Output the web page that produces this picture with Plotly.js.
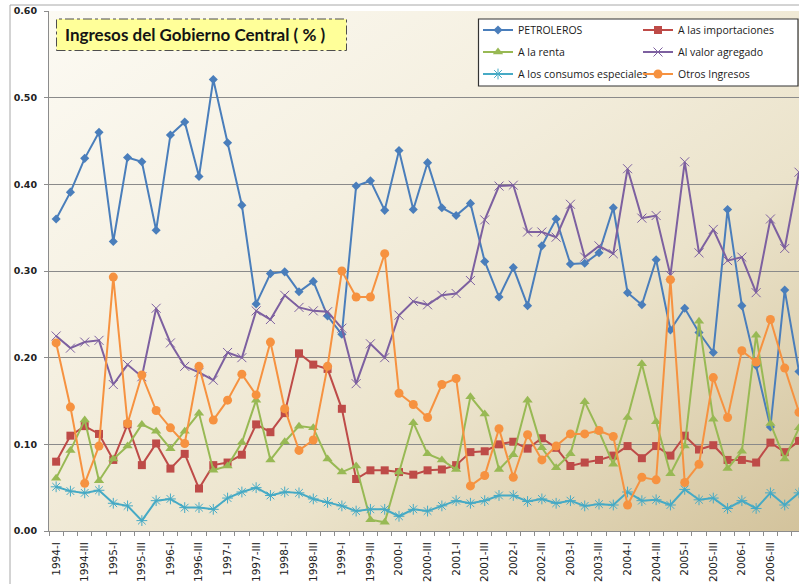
<!DOCTYPE html>
<html>
<head>
<meta charset="utf-8">
<script src="https://cdn.plot.ly/plotly-3.0.1.min.js"></script>
<style>
  html, body { margin: 0; padding: 0; background: #ffffff; overflow: hidden; }
  #wrap { position: relative; width: 799px; height: 584px; }
  #bg { position: absolute; left: 49px; top: 11px; width: 750px; height: 520px;
        background: linear-gradient(to bottom right, #fcfaf3 0%, #f5f0e1 35%, #ebe3cb 65%, #d3c39c 100%); }
  #chart { position: absolute; left: 0; top: 0; width: 799px; height: 584px; }
</style>
</head>
<body>
<div id="wrap"><div id="bg"></div><div id="chart"></div></div>
<script>
const categories = [
  '1994-I','1994-II','1994-III','1994-IV','1995-I','1995-II','1995-III','1995-IV',
  '1996-I','1996-II','1996-III','1996-IV','1997-I','1997-II','1997-III','1997-IV',
  '1998-I','1998-II','1998-III','1998-IV','1999-I','1999-II','1999-III','1999-IV',
  '2000-I','2000-II','2000-III','2000-IV','2001-I','2001-II','2001-III','2001-IV',
  '2002-I','2002-II','2002-III','2002-IV','2003-I','2003-II','2003-III','2003-IV',
  '2004-I','2004-II','2004-III','2004-IV','2005-I','2005-II','2005-III','2005-IV',
  '2006-I','2006-II','2006-III','2006-IV','2007-I'
];
const petroleros = [0.360,0.391,0.430,0.460,0.334,0.431,0.426,0.347,0.457,0.472,0.409,0.521,0.448,0.376,0.262,0.297,0.299,0.276,0.288,0.248,0.227,0.398,0.404,0.370,0.439,0.371,0.425,0.373,0.364,0.378,0.311,0.270,0.304,0.260,0.329,0.360,0.308,0.309,0.321,0.373,0.275,0.261,0.313,0.232,0.257,0.229,0.206,0.371,0.260,0.191,0.120,0.278,0.184];
const importaciones = [0.080,0.110,0.121,0.112,0.082,0.123,0.076,0.101,0.072,0.089,0.049,0.076,0.079,0.088,0.123,0.114,0.136,0.205,0.192,0.187,0.141,0.060,0.070,0.070,0.068,0.065,0.070,0.071,0.076,0.091,0.092,0.100,0.103,0.095,0.107,0.096,0.075,0.079,0.082,0.087,0.098,0.084,0.098,0.087,0.110,0.094,0.099,0.082,0.082,0.079,0.102,0.091,0.104];
const renta = [0.061,0.093,0.128,0.058,0.083,0.098,0.123,0.115,0.095,0.115,0.136,0.070,0.075,0.102,0.151,0.082,0.103,0.121,0.119,0.083,0.068,0.075,0.013,0.010,0.068,0.125,0.089,0.082,0.071,0.155,0.135,0.071,0.088,0.151,0.096,0.073,0.089,0.149,0.115,0.077,0.131,0.193,0.126,0.066,0.098,0.242,0.129,0.072,0.092,0.226,0.124,0.083,0.119];
const valorAgregado = [0.225,0.211,0.218,0.220,0.169,0.192,0.178,0.257,0.217,0.190,0.183,0.174,0.206,0.200,0.254,0.244,0.272,0.258,0.254,0.253,0.234,0.170,0.216,0.200,0.249,0.265,0.261,0.272,0.274,0.289,0.359,0.398,0.399,0.345,0.345,0.339,0.377,0.316,0.329,0.320,0.418,0.361,0.364,0.295,0.426,0.321,0.348,0.312,0.316,0.275,0.360,0.326,0.414];
const consumos = [0.051,0.046,0.044,0.047,0.032,0.029,0.012,0.035,0.037,0.027,0.027,0.025,0.038,0.045,0.050,0.041,0.045,0.044,0.037,0.033,0.029,0.023,0.025,0.025,0.017,0.025,0.023,0.029,0.035,0.032,0.035,0.041,0.041,0.034,0.037,0.032,0.035,0.029,0.031,0.030,0.045,0.035,0.036,0.030,0.048,0.036,0.038,0.026,0.035,0.026,0.044,0.030,0.044];
const otros = [0.217,0.143,0.055,0.098,0.293,0.124,0.180,0.139,0.119,0.101,0.190,0.128,0.151,0.181,0.157,0.218,0.141,0.093,0.105,0.190,0.300,0.270,0.270,0.320,0.159,0.146,0.131,0.169,0.176,0.052,0.064,0.118,0.062,0.111,0.082,0.098,0.112,0.112,0.116,0.109,0.030,0.062,0.059,0.290,0.056,0.077,0.177,0.131,0.208,0.195,0.244,0.188,0.137];

const seriesNames = ['PETROLEROS','A las importaciones','A la renta','Al valor agregado','A los consumos especiales','Otros Ingresos'];

const xIdx = categories.map((c, i) => i);
const tickVals = xIdx.filter(i => i % 2 === 0);
const tickText = tickVals.map(i => categories[i]);

function mk(name, y, color, symbol, size, legendId, open) {
  return {
    type: 'scatter', mode: 'lines+markers', name: name,
    x: xIdx, y: y, legend: legendId,
    line: { color: color, width: 2 },
    marker: open
      ? { symbol: symbol, size: size, color: color, line: { color: color, width: 1 } }
      : { symbol: symbol, size: size, color: color, line: { width: 0 } },
    hoverinfo: 'name+y'
  };
}

const data = [
  mk(seriesNames[0], petroleros, '#4a7ebb', 'diamond', 7, 'legend', false),
  mk(seriesNames[1], importaciones, '#be4b48', 'square', 8, 'legend', false),
  mk(seriesNames[2], renta, '#98b954', 'triangle-up', 9, 'legend2', false),
  mk(seriesNames[3], valorAgregado, '#7d60a0', 'x-thin-open', 9, 'legend2', true),
  mk(seriesNames[4], consumos, '#46aac5', 'asterisk-open', 9, 'legend3', true),
  mk(seriesNames[5], otros, '#f69240', 'circle', 9, 'legend3', false)
];

const legFont = { family: 'Open Sans, sans-serif', size: 10.5, color: '#1a1a1a' };
function leg(y) {
  return { x: 0.572, xanchor: 'left', y: y, yanchor: 'middle', orientation: 'h',
           bgcolor: 'rgba(0,0,0,0)', borderwidth: 0, font: legFont,
           entrywidth: 115, entrywidthmode: 'pixels', itemwidth: 30, itemclick: false, itemdoubleclick: false };
}

const layout = {
  width: 799, height: 584,
  margin: { l: 49, r: 0, t: 11, b: 53, autoexpand: false },
  paper_bgcolor: 'rgba(0,0,0,0)',
  plot_bgcolor: 'rgba(0,0,0,0)',
  showlegend: true,
  title: {
    text: 'Ingresos del Gobierno Central ( % )',
    font: { family: 'Lato, sans-serif', size: 17, weight: 'bold', color: '#141414' },
    x: 65 / 799, xref: 'container', xanchor: 'left',
    y: 1 - 35 / 584, yref: 'container', yanchor: 'middle'
  },
  xaxis: {
    range: [-0.5, 52.0],
    tickmode: 'array', tickvals: tickVals, ticktext: tickText,
    tickangle: -90, ticks: '', ticklabelstandoff: 6,
    tickfont: { family: 'DejaVu Sans, sans-serif', size: 10.5, color: '#222222' },
    minor: { tickmode: 'linear', tick0: -0.5, dtick: 1, ticks: 'outside', ticklen: 4, tickcolor: '#8c8c8c', tickwidth: 1, showgrid: false },
    showgrid: false, zeroline: false,
    showline: true, linecolor: '#8c8c8c', linewidth: 1, fixedrange: true
  },
  yaxis: {
    range: [0, 0.6], dtick: 0.1, tick0: 0, tickformat: '.2f',
    ticks: 'outside', ticklen: 4, tickcolor: '#8c8c8c', ticklabelstandoff: 5,
    tickfont: { family: 'DejaVu Sans, sans-serif', size: 9.5, weight: 'bold', color: '#222222' },
    showgrid: true, gridcolor: '#8a8a8a', gridwidth: 1, zeroline: false,
    showline: true, linecolor: '#8c8c8c', linewidth: 1, fixedrange: true
  },
  legend: leg(1 - (30 - 11) / 520),
  legend2: leg(1 - (52 - 11) / 520),
  legend3: leg(1 - (74 - 11) / 520),
  shapes: [
    { type: 'rect', xref: 'paper', yref: 'paper', x0: (10 - 49) / 750, x1: 1.2, y0: -0.5, y1: 1 + (11 - 5) / 520,
      line: { color: '#a8a8a8', width: 1 }, fillcolor: 'rgba(0,0,0,0)', layer: 'below' },
    { type: 'rect', xref: 'paper', yref: 'paper', x0: (56.5 - 49) / 750, x1: (346.5 - 49) / 750,
      y0: 1 - (50.5 - 11) / 520, y1: 1 - (19 - 11) / 520,
      line: { color: '#4d4d4d', width: 1, dash: 'dashdot' }, fillcolor: '#ffff99', layer: 'below' },
    { type: 'rect', xref: 'paper', yref: 'paper', x0: (478.5 - 49) / 750, x1: (798 - 49) / 750,
      y0: 1 - (86 - 11) / 520, y1: 1 - (19 - 11) / 520,
      line: { color: '#333333', width: 1.2 }, fillcolor: '#ffffff', layer: 'above' }
  ]
};

Plotly.newPlot('chart', data, layout, { displayModeBar: false, staticPlot: true });
</script>
</body>
</html>
